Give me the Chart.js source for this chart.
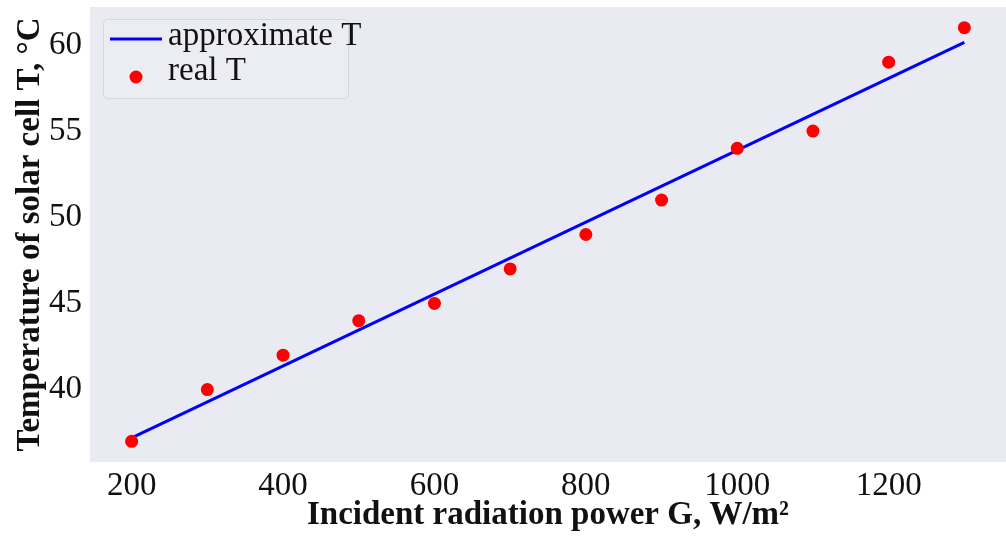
<!DOCTYPE html>
<html>
<head>
<meta charset="utf-8">
<script src="https://cdn.jsdelivr.net/npm/chart.js"></script>
<style>
  html, body { margin: 0; padding: 0; background: #fff; }
</style>
</head>
<body>
<canvas id="myChart" width="1006" height="536"></canvas>
<script>
// datos
const potencia = [200, 300, 400, 500, 600, 700, 800, 900, 1000, 1100, 1200, 1300];
const tempReal = [37, 40, 42, 44, 45, 47, 49, 51, 54, 55, 59, 61];
const lineaX = [200, 1300];
const lineaT = [37.2, 60.15];
const ticksX = [200, 400, 600, 800, 1000, 1200];
const ticksY = [40, 45, 50, 55, 60];

const serif = '"Liberation Serif", "Times New Roman", serif';

//fondo lila del area de la grafica
const fondo = {
    id: 'fondo',
    beforeDraw(chart) {
        const {ctx, chartArea: a} = chart;
        ctx.save();
        ctx.fillStyle = '#eaeaf2';
        ctx.fillRect(a.left, a.top, a.right - a.left, a.bottom - a.top);
        ctx.restore();
    }
};

//leyenda dentro del area, como la de matplotlib
const leyenda = {
    id: 'leyenda',
    afterDatasetsDraw(chart) {
        const ctx = chart.ctx;
        ctx.save();
        ctx.beginPath();
        ctx.roundRect(103.5, 19.5, 245, 79, 4);
        ctx.fillStyle = 'rgba(236,236,243,0.9)';
        ctx.fill();
        ctx.strokeStyle = '#d6d6dd';
        ctx.lineWidth = 1;
        ctx.stroke();

        ctx.strokeStyle = '#0000ff';
        ctx.lineWidth = 3;
        ctx.beginPath();
        ctx.moveTo(110, 39);
        ctx.lineTo(162, 39);
        ctx.stroke();

        ctx.fillStyle = '#ff0000';
        ctx.beginPath();
        ctx.arc(136, 77, 6.5, 0, Math.PI * 2);
        ctx.fill();

        ctx.fillStyle = '#111';
        ctx.font = '33px ' + serif;
        ctx.textBaseline = 'alphabetic';
        ctx.fillText('approximate T', 168, 45);
        ctx.fillText('real T', 168, 80);
        ctx.restore();
    }
};

const grafica = document.getElementById('myChart').getContext('2d');

const myChart = new Chart(grafica, {
    type: 'scatter',
    data: {
        datasets: [
            {
                label: 'real T',
                data: potencia.map((x, i) => ({x: x, y: tempReal[i]})),
                backgroundColor: '#ff0000',
                borderColor: '#ff0000',
                pointRadius: 6.5,
                pointBorderWidth: 0,
                order: 0
            },
            {
                type: 'line',
                label: 'approximate T',
                data: lineaX.map((x, i) => ({x: x, y: lineaT[i]})),
                borderColor: '#0000ff',
                borderWidth: 3,
                pointRadius: 0,
                fill: false,
                order: 1
            }
        ]
    },
    options: {
        responsive: false,
        animation: false,
        devicePixelRatio: 1,
        layout: { autoPadding: false, padding: { top: 7, right: 0, left: 0, bottom: 0 } },
        plugins: {
            legend: { display: false },
            tooltip: { enabled: false }
        },
        scales: {
            x: {
                type: 'linear',
                min: 145,
                max: 1355,
                afterBuildTicks: (s) => { s.ticks = ticksX.map(v => ({value: v})); },
                afterFit: (s) => {
                    s.height = 74;
                    s.paddingLeft = 0;
                    s.paddingRight = 0;
                },
                grid: { display: false, drawTicks: false },
                border: { display: false },
                ticks: {
                    padding: 5,
                    color: '#111',
                    font: { family: serif, size: 33 },
                    maxRotation: 0,
                    callback: (v) => String(v)
                },
                title: {
                    display: true,
                    text: 'Incident radiation power G, W/m²',
                    color: '#111',
                    font: { family: serif, size: 33, weight: 'bold', lineHeight: 1.2 },
                    padding: { top: 0, bottom: 1 }
                }
            },
            y: {
                min: 35.8,
                max: 62.2,
                afterBuildTicks: (s) => { s.ticks = ticksY.map(v => ({value: v})); },
                afterFit: (s) => {
                    s.width = 90;
                    s.paddingTop = 0;
                    s.paddingBottom = 0;
                },
                grid: { display: false, drawTicks: false },
                border: { display: false },
                ticks: {
                    padding: 8,
                    color: '#111',
                    font: { family: serif, size: 33 },
                    callback: (v) => String(v)
                },
                title: {
                    display: true,
                    text: 'Temperature of solar cell T, °C',
                    color: '#111',
                    font: { family: serif, size: 33, weight: 'bold', lineHeight: 1.2 },
                    padding: { top: 11, bottom: 0 }
                }
            }
        }
    },
    plugins: [fondo, leyenda]
});
</script>
</body>
</html>
